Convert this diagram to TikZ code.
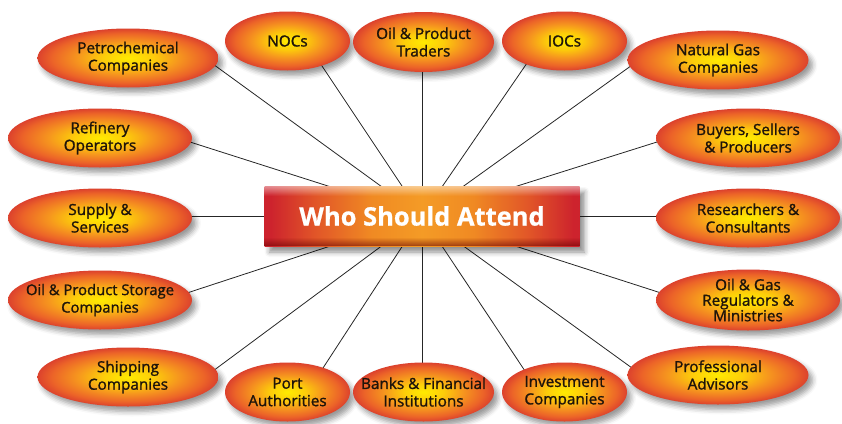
\documentclass[tikz,border=0pt]{standalone}
\usepackage{fontspec}
\setmainfont{Open Sans}[FakeBold=1.3]
\newfontfamily\titlefont{Open Sans}[FakeBold=0.8]
\usetikzlibrary{shapes.geometric,shadows.blur,backgrounds,fadings}
\definecolor{ovY}{RGB}{255,235,0}
\definecolor{ovY2}{RGB}{253,205,10}
\definecolor{ovO}{RGB}{246,150,30}
\definecolor{ovR}{RGB}{236,100,40}
\definecolor{ovR2}{RGB}{220,66,45}
\definecolor{boxR}{RGB}{205,35,45}
\definecolor{boxM}{RGB}{225,85,40}
\definecolor{boxO}{RGB}{240,138,35}
\definecolor{boxC}{RGB}{244,155,38}
\definecolor{txt}{RGB}{30,20,10}
\pgfdeclareradialshading{ovalshade}{\pgfpoint{0bp}{0bp}}{color(0bp)=(ovY); color(7bp)=(ovY2); color(14bp)=(ovO); color(21bp)=(ovR); color(25bp)=(ovR2); color(100bp)=(ovR2)}
\pgfdeclarehorizontalshading{boxshade}{100bp}{color(0bp)=(boxR); color(26bp)=(boxR); color(33bp)=(boxM); color(42bp)=(boxO); color(50bp)=(boxC); color(58bp)=(boxO); color(67bp)=(boxM); color(74bp)=(boxR); color(100bp)=(boxR)}
\begin{document}
\begin{tikzpicture}[x=1pt,y=-1pt,
  oval/.style={ellipse, inner xsep=-30pt, inner ysep=-8pt, minimum width=#1, minimum height=59pt,
    shade, shading=ovalshade,
    blur shadow={shadow xshift=4pt, shadow yshift=-5pt, shadow blur radius=5pt, shadow opacity=40},
    align=center, text=txt, font=\fontsize{15.3}{17.5}\selectfont},
  oval/.default=184pt,
  link/.style={draw=black!85, line width=0.8pt, shorten >=-6pt},
  hubbox/.style={rectangle, minimum width=315pt, minimum height=60pt, inner sep=0pt,
    shade, shading=boxshade,
    blur shadow={shadow xshift=5pt, shadow yshift=-6pt, shadow blur radius=5pt, shadow opacity=45},
    text=white, font=\titlefont\fontsize{25.5}{30}\bfseries\selectfont}]
\useasboundingbox (0,0) rectangle (842,423);
% central box
\node[hubbox] (hub) at (422,216) {Who Should Attend};
\fill[white, path fading=south, opacity=0.5] (hub.north west) rectangle ([yshift=-10pt]hub.north east);
\fill[black!60!red, path fading=north, opacity=0.6] (hub.south west) rectangle ([yshift=9pt]hub.south east);
% ovals
\node[oval=181pt] (petro) at (128,58) {Petrochemical\\Companies};
\node[oval=125pt] (nocs) at (287.5,41) {NOCs};
\node[oval=141pt, minimum height=60pt] (traders) at (423.5,42) {Oil \& Product\\Traders};
\node[oval=125pt] (iocs) at (564.5,41) {IOCs};
\node[oval=181pt] (natgas) at (718,60) {Natural Gas\\Companies};
\node[oval] (refinery) at (100,138) {Refinery\\Operators};
\node[oval] (buyers) at (748,138) {Buyers, Sellers\\\& Producers};
\node[oval] (supply) at (100,218) {Supply \&\\Services};
\node[oval] (research) at (748,218) {Researchers \&\\Consultants};
\node[oval, font=\fontsize{14.8}{17.5}\selectfont] (storage) at (100,300) {Oil \& Product Storage\\Companies};
\node[oval, minimum height=61pt, font=\fontsize{15.3}{15.5}\selectfont] (regul) at (748,300) {Oil \& Gas\\Regulators \&\\Ministries};
\node[oval=181pt] (shipping) at (128,377) {Shipping\\Companies};
\node[oval=125pt] (port) at (287.5,392) {Port\\Authorities};
\node[oval=141pt] (banks) at (423.5,392) {Banks \& Financial\\Institutions};
\node[oval=125pt] (invest) at (564.5,392) {Investment\\Companies};
\node[oval=181pt] (advisors) at (718,375) {Professional\\Advisors};
% connector ends
\coordinate (cPetro) at (217,67);
\coordinate (cNocs) at (322,66);
\coordinate (cTraders) at (422,72);
\coordinate (cIocs) at (525,66);
\coordinate (cNatgas) at (628,68);
\coordinate (cRefinery) at (190,142);
\coordinate (cBuyers) at (657,142);
\coordinate (cSupply) at (192,216);
\coordinate (cResearch) at (655,216);
\coordinate (cStorage) at (190,292);
\coordinate (cRegul) at (658,292);
\coordinate (cShipping) at (217,368);
\coordinate (cPort) at (323,368);
\coordinate (cBanks) at (422,363);
\coordinate (cInvest) at (523,368);
\coordinate (cAdvisors) at (632,368);
\begin{pgfonlayer}{background}
\foreach \e in {Petro,Nocs,Traders,Iocs,Natgas,Refinery,Buyers,Supply,Research,Storage,Regul,Shipping,Port,Banks,Invest,Advisors}
  \draw[link] (hub.center) -- (c\e);
\end{pgfonlayer}
\end{tikzpicture}
\end{document}
